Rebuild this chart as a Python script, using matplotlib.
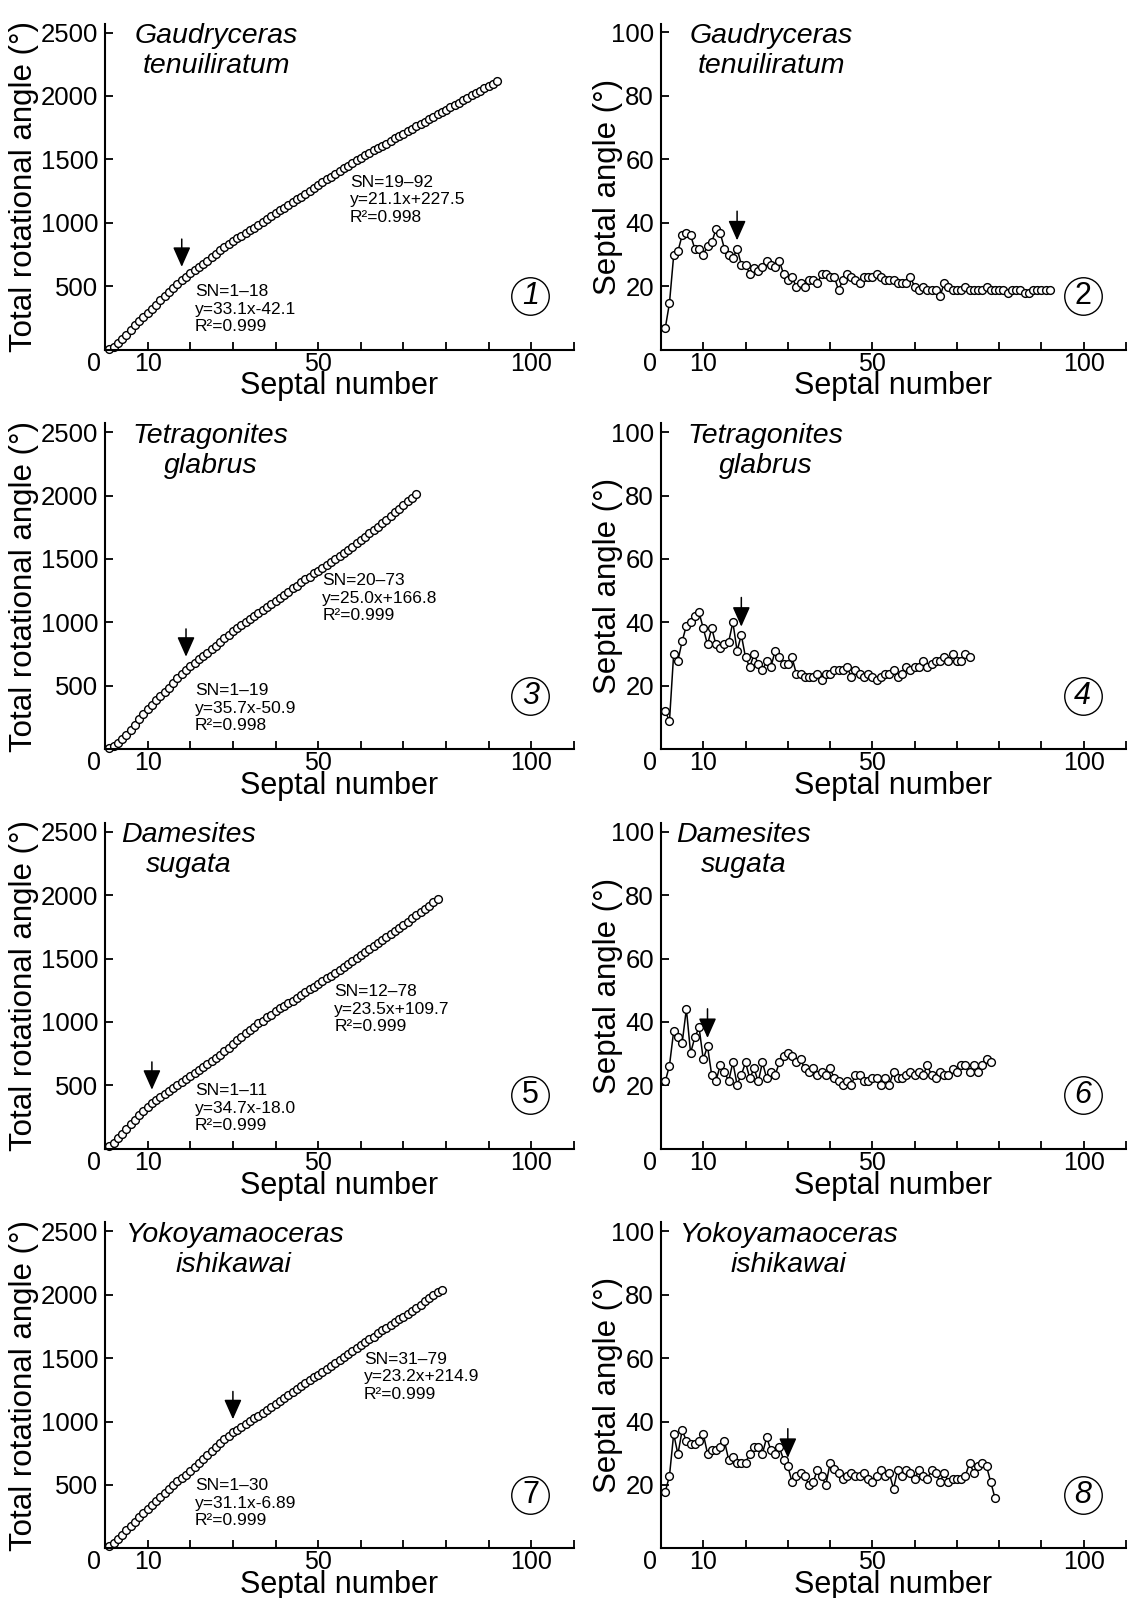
import numpy as np
import matplotlib
matplotlib.use("Agg")
import matplotlib.pyplot as plt
from matplotlib.transforms import ScaledTranslation

plt.rcParams['font.family'] = ['Liberation Sans', 'DejaVu Sans']

# septal angle (deg) for each septum
sa_gaudryceras = [6.7, 14.6, 29.7, 31.0, 36.0, 36.8, 36.0, 31.8, 31.8, 29.8,
                  32.8, 33.8, 37.9, 36.8, 31.8, 29.8, 28.8, 31.8, 26.8, 26.8,
                  23.8, 25.7, 24.8, 25.9, 27.9, 26.8, 25.9, 27.9, 23.8, 21.8,
                  22.8, 19.8, 20.9, 19.8, 21.8, 21.8, 20.9, 23.8, 23.8, 22.8,
                  22.8, 18.8, 21.8, 23.8, 22.8, 21.8, 20.9, 22.8, 22.8, 22.8,
                  23.8, 22.8, 21.8, 21.8, 21.8, 20.9, 20.9, 20.9, 22.8, 19.8,
                  18.8, 19.8, 18.8, 18.8, 18.8, 16.8, 20.9, 19.8, 18.8, 18.8,
                  18.8, 19.8, 18.8, 18.8, 18.8, 18.8, 19.8, 18.8, 18.8, 18.8,
                  18.8, 17.9, 18.8, 18.8, 18.8, 17.9, 17.9, 18.8, 18.8, 18.8,
                  18.8, 18.8]
sa_tetragonites = [12.0, 8.8, 30.1, 27.9, 34.0, 38.9, 40.0, 42.0, 43.1, 38.1,
                   33.0, 38.1, 33.0, 31.8, 33.0, 33.8, 40.0, 31.0, 36.0, 28.9,
                   25.9, 29.9, 26.9, 24.8, 27.9, 25.9, 31.0, 28.9, 26.9, 26.9,
                   28.9, 23.8, 23.8, 22.8, 22.8, 22.8, 23.8, 21.8, 23.8, 23.8,
                   24.8, 24.8, 24.8, 25.9, 22.8, 24.8, 23.8, 22.8, 23.8, 22.8,
                   21.8, 22.8, 23.8, 23.8, 24.8, 22.8, 23.8, 25.9, 24.8, 25.9,
                   25.9, 27.9, 25.9, 26.9, 27.9, 27.9, 28.9, 27.9, 29.9, 27.9,
                   27.9, 29.9, 28.9]
sa_damesites = [21.2, 26.2, 37.1, 35.1, 33.3, 44.1, 30.2, 35.1, 38.3, 28.2,
                32.3, 23.2, 21.3, 26.3, 24.3, 21.3, 27.2, 20.2, 23.3, 27.2,
                22.2, 25.3, 21.2, 27.2, 22.2, 24.3, 23.2, 27.2, 29.3, 30.3,
                29.3, 27.2, 28.2, 25.3, 24.3, 25.3, 23.2, 24.3, 23.3, 25.3,
                22.2, 21.3, 20.2, 21.3, 20.2, 23.3, 23.3, 21.3, 21.3, 22.2,
                22.2, 20.2, 22.2, 20.2, 24.3, 22.2, 22.2, 23.2, 24.3, 23.2,
                24.3, 23.2, 26.3, 23.2, 22.2, 24.3, 23.2, 23.2, 25.2, 24.3,
                26.3, 26.3, 24.3, 26.3, 24.3, 26.3, 28.2, 27.2]
sa_yokoyamaoceras = [17.8, 22.8, 36.1, 29.7, 37.2, 34.0, 32.9, 32.9, 34.0, 36.1,
                     29.9, 30.9, 30.9, 31.9, 33.9, 28.0, 28.9, 26.9, 26.9, 26.9,
                     29.9, 31.9, 31.9, 29.9, 35.0, 30.9, 29.9, 31.9, 27.9, 25.9,
                     20.9, 22.8, 23.8, 22.9, 19.9, 20.9, 24.8, 22.8, 19.9, 26.9,
                     24.9, 23.8, 21.8, 22.9, 23.8, 22.9, 22.9, 23.8, 21.8, 20.9,
                     22.9, 24.8, 22.8, 23.8, 18.8, 24.8, 22.9, 24.8, 23.8, 21.8,
                     24.8, 22.9, 21.8, 24.8, 23.8, 20.9, 23.8, 20.9, 21.8, 21.8,
                     21.8, 22.9, 26.9, 23.8, 25.9, 26.9, 25.9, 20.9, 15.9]

species = [('Gaudryceras', 'tenuiliratum'), ('Tetragonites', 'glabrus'),
           ('Damesites', 'sugata'), ('Yokoyamaoceras', 'ishikawai')]
septal_angles = [sa_gaudryceras, sa_tetragonites, sa_damesites, sa_yokoyamaoceras]
break_sn = [18, 19, 11, 30]   # septum marked by the arrow

fit_early = ['SN=1\u201318\ny=33.1x-42.1\nR\u00b2=0.999',
             'SN=1\u201319\ny=35.7x-50.9\nR\u00b2=0.998',
             'SN=1\u201311\ny=34.7x-18.0\nR\u00b2=0.999',
             'SN=1\u201330\ny=31.1x-6.89\nR\u00b2=0.999']
fit_late = ['SN=19\u201392\ny=21.1x+227.5\nR\u00b2=0.998',
            'SN=20\u201373\ny=25.0x+166.8\nR\u00b2=0.999',
            'SN=12\u201378\ny=23.5x+109.7\nR\u00b2=0.999',
            'SN=31\u201379\ny=23.2x+214.9\nR\u00b2=0.999']

xticks = list(range(0, 111, 10))
xticklabels = ['0' if t == 0 else (str(t) if t in (10, 50, 100) else '') for t in xticks]

# layout (axes fractions) for texts
name_x = [0.237, 0.225, 0.178, 0.275]
early_pos = [(0.192, 0.124), (0.192, 0.126), (0.192, 0.124), (0.192, 0.138)]
late_pos = [(0.522, 0.459), (0.463, 0.463), (0.489, 0.428), (0.552, 0.526)]
italic_num = {1: True, 2: False, 3: True, 4: True, 5: False, 6: True, 7: False, 8: True}

W, H = 1133, 1598
fig = plt.figure(figsize=(W / 100, H / 100), dpi=100)

ax_h = 326 / H
lefts = [105 / W, 661 / W]
widths = [469 / W, 465 / W]


def style_axes(ax, yticks, ylabel, ytop, ylab_x):
    for s in ('top', 'right'):
        ax.spines[s].set_visible(False)
    for s in ('left', 'bottom'):
        ax.spines[s].set_linewidth(1.5)
    ax.set_xlim(0, 110)
    ax.set_ylim(0, ytop)
    ax.set_xticks(xticks)
    ax.set_xticklabels(xticklabels)
    ax.set_yticks(yticks)
    ax.tick_params(axis='x', direction='in', length=5.5, width=1.3, pad=1.5, labelsize=18)
    ax.tick_params(axis='y', direction='in', length=5.5, width=1.3, pad=5, labelsize=18.5)
    lab0 = ax.get_xticklabels()[0]
    lab0.set_transform(lab0.get_transform() + ScaledTranslation(-8 / 72, 0, fig.dpi_scale_trans))
    ax.set_xlabel('Septal number', fontsize=22, labelpad=-3)
    ax.set_ylabel(ylabel, fontsize=22.5)
    ax.yaxis.set_label_coords(ylab_x, 0.5)


def add_name(ax, i):
    g, sp = species[i]
    ax.text(name_x[i], 0.940, g, transform=ax.transAxes, ha='center', va='baseline',
            fontsize=20.5, style='italic')
    ax.text(name_x[i], 0.848, sp, transform=ax.transAxes, ha='center', va='baseline',
            fontsize=20.5, style='italic')


def add_number(ax, n):
    ax.plot([0.907], [0.164], 'o', ms=27, mfc='none', mec='black', mew=1.0,
            transform=ax.transAxes, clip_on=False)
    ax.text(0.907, 0.164, str(n), transform=ax.transAxes, ha='center', va='center',
            fontsize=22, style='italic' if italic_num[n] else 'normal')


def add_arrow(ax, x, y, gap, length):
    ax.annotate('', xy=(x, y), xytext=(0, gap + length), textcoords='offset points',
                arrowprops=dict(arrowstyle='-|>,head_length=0.45,head_width=0.2',
                                mutation_scale=27, lw=1.1, color='black',
                                shrinkA=0, shrinkB=gap))


for r in range(4):
    bottom = 1 - (349.5 + 399.6 * r) / H
    sa = np.array(septal_angles[r])
    sn = np.arange(1, len(sa) + 1)
    total = np.cumsum(sa)

    # total rotational angle
    ax = fig.add_axes([lefts[0], bottom, widths[0], ax_h])
    style_axes(ax, [500, 1000, 1500, 2000, 2500], 'Total rotational angle (\u00b0)',
               2500 * 326 / 317, -0.141)
    ax.plot(sn, total, 'o', ms=5.6, mfc='white', mec='black', mew=1.0, clip_on=False)
    add_name(ax, r)
    ax.text(*early_pos[r], fit_early[r], transform=ax.transAxes, ha='left', va='center',
            fontsize=12.5, linespacing=1.2)
    ax.text(*late_pos[r], fit_late[r], transform=ax.transAxes, ha='left', va='center',
            fontsize=12.5, linespacing=1.2)
    b = break_sn[r]
    add_arrow(ax, b, total[b - 1], 9.5, 20)
    add_number(ax, 2 * r + 1)

    # septal angle
    ax = fig.add_axes([lefts[1], bottom, widths[1], ax_h])
    style_axes(ax, [20, 40, 60, 80, 100], 'Septal angle (\u00b0)', 100 * 326 / 317, -0.081)
    ax.plot(sn, sa, '-o', lw=1.1, color='black', ms=5.6, mfc='white', mec='black', mew=1.0)
    add_name(ax, r)
    add_arrow(ax, b, sa[b - 1], 6, 21)
    add_number(ax, 2 * r + 2)

fig.savefig('out.png', dpi=100)
